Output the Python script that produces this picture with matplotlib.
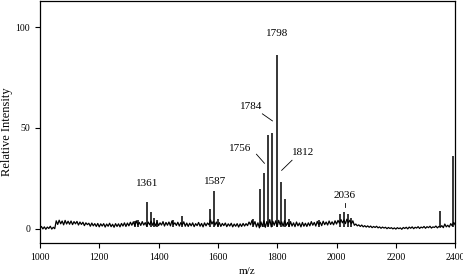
import numpy as np
import matplotlib
matplotlib.use("Agg")
import matplotlib.pyplot as plt

plt.rcParams["font.family"] = ["Liberation Serif", "DejaVu Serif"]

# baseline trace, one value every 5 m/z from 1000 to 2400
BASE_MZ = np.arange(1000, 2401, 5)
BASELINE = [
    0.3, 1.2, 0.0, 1.0, -0.2, 0.9, 0.2, 1.3, -0.1, 0.8, 0.1, 4.0, 2.2, 4.3, 2.5, 3.9, 2.0, 4.2, 2.4, 3.8,
    2.3, 3.9, 2.1, 3.6, 2.5, 3.7, 1.9, 3.4, 2.2, 3.3, 1.6, 3.0, 2.1, 2.8, 1.3, 2.9, 1.5, 2.6, 1.2, 2.7,
    1.0, 2.5, 1.4, 2.6, 0.9, 2.4, 1.3, 2.8, 1.1, 2.3, 0.8, 2.6, 1.2, 2.5, 1.0, 2.7, 1.4, 3.0, 1.2, 2.9,
    1.5, 3.3, 1.8, 3.5, 1.6, 4.0, 2.0, 3.2, 1.7, 3.6, 1.9, 3.1, 1.4, 3.4, 2.0, 3.8, 1.8, 3.3, 1.5, 3.5,
    1.6, 3.0, 1.9, 3.6, 1.4, 3.2, 1.8, 3.4, 1.5, 3.9, 2.1, 3.0, 1.7, 3.3, 1.4, 3.1, 1.9, 3.5, 1.3, 2.9,
    1.2, 2.8, 1.5, 3.0, 1.1, 2.6, 1.6, 3.2, 1.3, 2.7, 1.0, 3.0, 1.5, 2.9, 2.0, 4.5, 2.4, 3.8, 1.8, 3.4,
    1.5, 3.1, 1.2, 2.7, 1.6, 2.9, 1.1, 2.5, 1.4, 2.8, 1.0, 2.4, 1.3, 2.6, 0.9, 2.5, 1.2, 2.7, 1.4, 2.6,
    1.6, 3.4, 2.0, 4.2, 1.8, 3.6, 1.0, 3.0, 0.5, 3.5, 1.2, 4.0, 0.8, 3.6, 1.5, 4.6, 1.0, 3.8, 1.8, 4.0,
    1.2, 4.2, 2.0, 3.5, 1.3, 4.1, 1.6, 3.2, 1.2, 3.6, 1.4, 3.0, 1.1, 3.4, 1.5, 2.9, 1.0, 3.2, 1.3, 2.8,
    1.2, 3.0, 1.5, 3.6, 1.8, 3.2, 1.4, 3.7, 2.0, 3.3, 1.6, 3.8, 2.1, 3.4, 1.9, 3.9, 2.2, 3.5, 2.0, 4.0,
    2.4, 4.2, 2.8, 4.6, 3.0, 4.4, 2.6, 4.8, 3.0, 4.3, 2.5, 4.0, 1.8, 2.4, 1.5, 2.0, 1.2, 1.9, 1.0, 1.6,
    0.9, 1.5, 0.8, 1.4, 0.6, 1.2, 0.7, 1.3, 0.5, 1.0, 0.3, 0.9, 0.4, 0.8, 0.1, 0.7, 0.2, 0.6, 0.0, 0.5,
    -0.1, 0.6, 0.1, 0.5, -0.2, 0.7, 0.2, 0.8, 0.0, 0.9, 0.3, 1.0, 0.1, 0.8, 0.4, 1.1, 0.2, 0.9, 0.5, 1.2,
    0.3, 1.1, 0.6, 1.3, 0.4, 1.0, 0.7, 1.4, 0.5, 1.2, 0.8, 1.6, 0.6, 2.4, 1.0, 1.8, 0.9, 2.6, 1.5, 3.2,
    2.0,
]

# peak positions and heights
PEAK_MZ = [1320, 1330, 1361, 1375, 1385, 1395, 1450, 1480, 1572, 1587, 1600,
           1720, 1742, 1756, 1770, 1784, 1798, 1812, 1826, 1840, 1940,
           2011, 2024, 2038, 2050, 2350, 2391]
PEAK_H = [4.0, 4.5, 13.4, 8.5, 5.5, 4.5, 4.5, 6.5, 10.0, 18.7, 5.0,
          5.0, 19.7, 27.6, 46.5, 47.5, 86.0, 23.0, 15.0, 5.0, 4.5,
          7.5, 8.5, 7.5, 5.5, 9.0, 36.0]

# labelled peaks: text, label position, leader line (start, end) or None
LABELS = ["1798", "1784", "1756", "1812", "1361", "1587", "2036"]
LABEL_XY = [(1798, 97), (1713, 60.5), (1676, 40), (1888, 38),
            (1362, 22.7), (1590, 23.6), (2028, 16.3)]
LEADERS = [None, ((1750, 57), (1784, 53.5)), ((1730, 37), (1757, 32.5)),
           ((1850, 34), (1815, 29)), None, None, ((2030, 11), (2030, 13))]

fig = plt.figure(figsize=(4.64, 2.79), dpi=100)
ax = fig.add_axes([0.086, 0.129, 0.895, 0.868])

ax.plot(BASE_MZ, BASELINE, color="black", lw=0.9)
ax.vlines(PEAK_MZ, 1.0, PEAK_H, color="black", lw=1.1)

for text, xy, leader in zip(LABELS, LABEL_XY, LEADERS):
    ax.text(xy[0], xy[1], text, ha="center", va="center", fontsize=8)
    if leader is not None:
        ax.plot([leader[0][0], leader[1][0]], [leader[0][1], leader[1][1]],
                color="black", lw=0.6)

ax.set_xlim(1000, 2400)
ax.set_ylim(-7, 113)
ax.set_xticks([1000, 1200, 1400, 1600, 1800, 2000, 2200, 2400])
ax.set_yticks([0, 50, 100])
ax.tick_params(labelsize=7, length=3.5, width=0.8, direction="out")
ax.set_xlabel("m/z", fontsize=8, labelpad=4)
ax.set_ylabel("Relative Intensity", fontsize=9)
ax.yaxis.set_label_coords(-0.064, 0.46)
for s in ax.spines.values():
    s.set_linewidth(0.9)

fig.savefig("out.png", dpi=100)
